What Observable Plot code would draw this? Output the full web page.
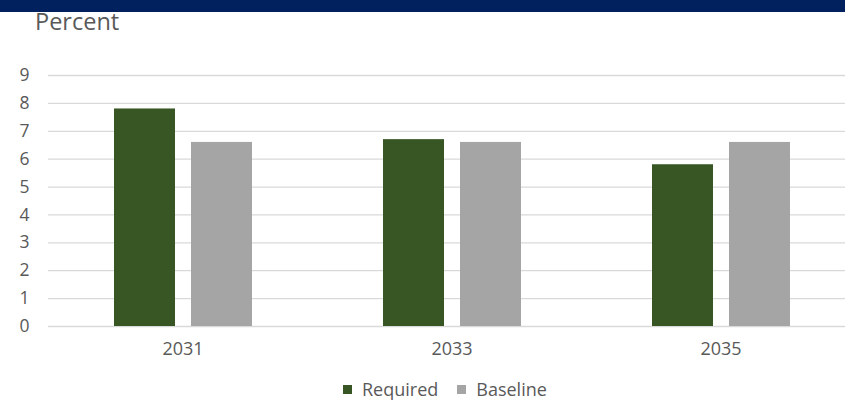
<!DOCTYPE html>
<html>
<head>
<meta charset="utf-8">
<script src="https://cdn.jsdelivr.net/npm/d3@7"></script>
<script src="https://cdn.jsdelivr.net/npm/@observablehq/plot@0.6"></script>
<style>
  body { margin:0; background:#fff; font-family:"Open Sans", sans-serif; }
  #wrap { position:relative; width:845px; height:400px; overflow:hidden; }
  #banner { position:absolute; left:0; top:0; width:845px; height:12px; background:#00205e; }
  #title { position:absolute; left:35px; top:6px; font-size:23.5px; color:#595959; line-height:1.36; }
  #chart { position:absolute; left:0; top:0; }
  #legend { position:absolute; left:343px; top:377px; display:flex; gap:19px; font-size:18px; color:#595959; line-height:1.36; }
  .item { display:flex; align-items:center; gap:10px; }
  .sw { width:9px; height:9px; display:inline-block; }
</style>
</head>
<body>
<div id="wrap">
  <div id="chart"></div>
  <div id="banner"></div>
  <div id="title">Percent</div>
  <div id="legend"></div>
</div>
<script>
const years = ["2031", "2033", "2035"];
const series = ["Required", "Baseline"];
const required = [7.8, 6.7, 5.8];
const baseline = [6.6, 6.6, 6.6];
const colors = ["#375623", "#a5a5a5"];
const yTicks = [0, 1, 2, 3, 4, 5, 6, 7, 8, 9];

const data = [];
years.forEach((yr, i) => {
  data.push({year: yr, series: "Required", value: required[i]});
  data.push({year: yr, series: "Baseline", value: baseline[i]});
});

const chart = Plot.plot({
  width: 845,
  height: 400,
  marginTop: 75,
  marginBottom: 74,
  marginLeft: 47,
  marginRight: 0,
  style: {fontFamily: "Open Sans, sans-serif", fontSize: "17px", color: "#595959", background: "transparent", overflow: "visible"},
  fx: {domain: years, range: [47.5, 854.5], padding: 0, label: null, axis: null},
  x: {domain: series, paddingInner: 0.208, paddingOuter: 0.85, axis: null},
  y: {domain: [0, 9], label: null, axis: null},
  color: {domain: series, range: colors},
  marks: [
    Plot.gridY(yTicks, {stroke: "#d9d9d9", strokeOpacity: 1, strokeWidth: 1.3}),
    Plot.barY(data, {fx: "year", x: "series", y: "value", fill: "series"}),
    Plot.axisY(yTicks, {anchor: "left", tickSize: 0, tickPadding: 19, fontSize: 17.5, fill: "#595959", label: null}),
    Plot.axisFx({anchor: "bottom", tickSize: 0, tickPadding: 16, fontSize: 18, fill: "#595959", label: null})
  ]
});
document.getElementById("chart").appendChild(chart);

const legend = document.getElementById("legend");
series.forEach((s, i) => {
  const it = document.createElement("div");
  it.className = "item";
  const sw = document.createElement("span");
  sw.className = "sw";
  sw.style.background = colors[i];
  const t = document.createElement("span");
  t.textContent = s;
  it.appendChild(sw);
  it.appendChild(t);
  legend.appendChild(it);
});
</script>
</body>
</html>
